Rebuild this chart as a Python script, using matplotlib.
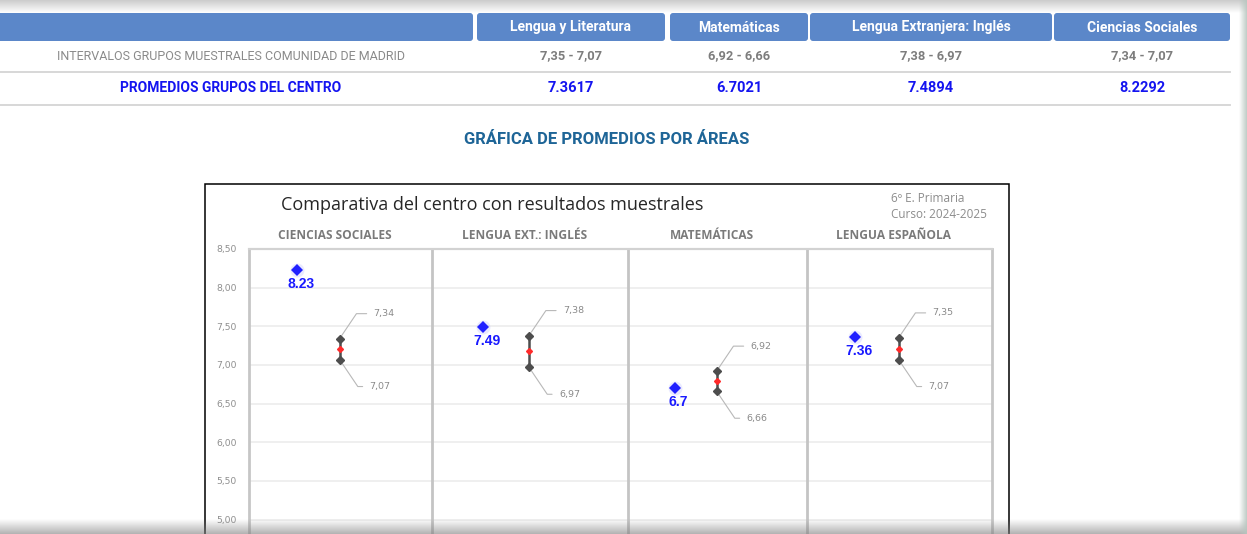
import numpy as np
import matplotlib
matplotlib.use("Agg")
import matplotlib.pyplot as plt
from matplotlib.patches import FancyBboxPatch, Rectangle

# ---------------- data ----------------
table_subjects = ["Lengua y Literatura", "Matemáticas", "Lengua Extranjera: Inglés", "Ciencias Sociales"]
interval_high = [7.35, 6.92, 7.38, 7.34]
interval_low = [7.07, 6.66, 6.97, 7.07]
center_means = [7.3617, 6.7021, 7.4894, 8.2292]
chart_categories = ["CIENCIAS SOCIALES", "LENGUA EXT.: INGLÉS", "MATEMÁTICAS", "LENGUA ESPAÑOLA"]
chart_order = [3, 2, 1, 0]          # table column shown in each chart panel
y_ticks = [5.0, 5.5, 6.0, 6.5, 7.0, 7.5, 8.0, 8.5]
row_label_intervals = "INTERVALOS GRUPOS MUESTRALES COMUNIDAD DE MADRID"
row_label_means = "PROMEDIOS GRUPOS DEL CENTRO"
section_title = "GRÁFICA DE PROMEDIOS POR ÁREAS"
chart_title = "Comparativa del centro con resultados muestrales"
chart_notes = ["6º E. Primaria", "Curso: 2024-2025"]


def comma(v):
    return f"{v:.2f}".replace(".", ",")


# ---------------- layout ----------------
W, H = 1247, 534
fig = plt.figure(figsize=(W / 100, H / 100), dpi=100)
fig.patch.set_facecolor("white")

bg = fig.add_axes([0, 0, 1, 1], zorder=0)
bg.set_xlim(0, W)
bg.set_ylim(H, 0)
bg.axis("off")

HEAD = "#5b87c9"
col_spans = [(477, 665), (670, 808), (810, 1052), (1054, 1230)]
head_top, head_bot = 13, 41
row2_y, row3_y = 56, 88
label_cx = 231

# header cells
bg.add_patch(FancyBboxPatch((-10, head_top), 483, head_bot - head_top,
                            boxstyle="round,pad=0,rounding_size=3",
                            fc=HEAD, ec="none"))
for (x0, x1), name in zip(col_spans, table_subjects):
    bg.add_patch(FancyBboxPatch((x0, head_top), x1 - x0, head_bot - head_top,
                                boxstyle="round,pad=0,rounding_size=3",
                                fc=HEAD, ec="none"))
    bg.text((x0 + x1) / 2, (head_top + head_bot) / 2 + 0.5, name, ha="center", va="center",
            color="white", fontsize=10, fontweight="bold", family="Roboto")

# rows
bg.text(label_cx, row2_y, row_label_intervals, ha="center", va="center",
        color="#8a8a8a", fontsize=9.0, family="Roboto")
bg.text(label_cx, row3_y, row_label_means, ha="center", va="center",
        color="#1414f0", fontsize=10, fontweight="bold", family="Roboto")
for (x0, x1), hi, lo, m in zip(col_spans, interval_high, interval_low, center_means):
    bg.text((x0 + x1) / 2, row2_y, f"{comma(hi)} - {comma(lo)}", ha="center", va="center",
            color="#7d7d7d", fontsize=9.3, fontweight="bold", family="Roboto")
    bg.text((x0 + x1) / 2, row3_y, f"{m:.4f}", ha="center", va="center",
            color="#1414f0", fontsize=10.5, fontweight="bold", family="Roboto")
for yl in (72, 105):
    bg.plot([0, 1230], [yl, yl], color="#d4d4d4", lw=1.3)

bg.text(607, 139, section_title, ha="center", va="center", color="#1e6597",
        fontsize=12, fontweight="bold", family="Roboto")

# chart frame
bg.add_patch(Rectangle((205, 184), 1009 - 205, 500, fc="white", ec="black", lw=1.1))
bg.text(281, 205, chart_title, ha="left", va="center", color="#262626",
        fontsize=13, family="Open Sans")
bg.text(891, 198, chart_notes[0], ha="left", va="center", color="#8c8c8c",
        fontsize=8.5, family="Open Sans")
bg.text(891, 215, chart_notes[1], ha="left", va="center", color="#8c8c8c",
        fontsize=8.5, family="Open Sans")

# ---------------- chart axes ----------------
ax_l, ax_r, ax_t, ax_b = 249, 992, 249, 560
px_per_unit = 77.3
ax = fig.add_axes([ax_l / W, 1 - ax_b / H, (ax_r - ax_l) / W, (ax_b - ax_t) / H], zorder=2)
ax.set_facecolor("none")
y_top = 8.5
ax.set_ylim(y_top - (ax_b - ax_t) / px_per_unit, y_top)

panel_widths = [183, 196, 179, 185]
edges = np.concatenate([[0], np.cumsum(panel_widths)])
ax.set_xlim(edges[0], edges[-1])
ax.set_xticks([])

ax.set_yticks(y_ticks)
ax.set_yticklabels([comma(v) for v in y_ticks])
ax.tick_params(axis="y", length=0, pad=9, labelsize=6.7, labelcolor="#8f8f8f")
ax.yaxis.grid(True, color="#efefef", lw=1.4)
ax.set_axisbelow(True)
for side, col, lw in (("left", "#c6c6c6", 2), ("right", "#c6c6c6", 2), ("top", "#d2d2d2", 1.6)):
    ax.spines[side].set_color(col)
    ax.spines[side].set_linewidth(lw)
ax.spines["bottom"].set_visible(False)

for e in edges[1:-1]:
    ax.axvline(e, color="#c4c4c4", lw=2, zorder=1)

PT = 0.72  # points per pixel at 100 dpi
for i, cat in enumerate(chart_categories):
    j = chart_order[i]
    x0, w = edges[i], panel_widths[i]
    px = x0 + 0.26 * w
    bx = x0 + 0.495 * w
    m, hi, lo = center_means[j], interval_high[j], interval_low[j]

    # panel header
    ax.annotate(cat, xy=(x0 + w / 2, 1), xycoords=("data", "axes fraction"),
                xytext=(-4, 13 * PT), textcoords="offset points", ha="center", va="center",
                fontsize=8.6, fontweight="bold", color="#7a7a7a", family="Open Sans",
                annotation_clip=False)

    # centre mean
    ax.plot([px], [m], marker="o", ms=10, color="#8a8aff", alpha=0.18, mew=0, zorder=3)
    ax.plot([px], [m], marker="D", ms=6, color="#2020ff", mew=0, zorder=4)
    ax.annotate(f"{round(m, 2):g}", xy=(px, m), xytext=(3, -14 * PT), textcoords="offset points",
                ha="center", va="center", fontsize=10, fontweight="bold", color="#1a1aff",
                family="Liberation Sans")

    # sample interval
    ax.plot([bx, bx], [lo, hi], color="#4d4d4d", lw=1.8, zorder=3)
    ax.plot([bx, bx], [lo, hi], ls="none", marker="D", ms=3.6, color="#4d4d4d", zorder=4)
    ax.plot([bx], [(lo + hi) / 2], ls="none", marker="D", ms=3, color="#ff2a2a", zorder=5)
    ax.annotate(comma(hi), xy=(bx, hi), xytext=(34 * PT, 25 * PT), textcoords="offset points",
                ha="left", va="center", fontsize=6.8, color="#8a8a8a",
                arrowprops=dict(arrowstyle="-", color="#b8b8b8", lw=0.8, shrinkA=3, shrinkB=3,
                                connectionstyle="angle,angleA=0,angleB=56,rad=0"))
    ax.annotate(comma(lo), xy=(bx, lo), xytext=(30 * PT, -27 * PT), textcoords="offset points",
                ha="left", va="center", fontsize=6.8, color="#8a8a8a",
                arrowprops=dict(arrowstyle="-", color="#b8b8b8", lw=0.8, shrinkA=3, shrinkB=3,
                                connectionstyle="angle,angleA=0,angleB=-56,rad=0"))

# ---------------- page shadows ----------------
ov = fig.add_axes([0, 0, 1, 1], zorder=6)
ov.set_facecolor("none")
ov.axis("off")


def grad(extent, rgb, a0, a1, vertical=True, n=64):
    t = np.linspace(a0, a1, n)
    arr = np.zeros((n, 1, 4) if vertical else (1, n, 4))
    arr[..., :3] = rgb
    arr[..., 3] = t.reshape(arr.shape[:2])
    ov.imshow(arr, extent=extent, origin="upper", aspect="auto", interpolation="bilinear")


grad((0, W, 13, 0), (0.55, 0.55, 0.55), 0.45, 0.0)
grad((0, W, H, 519), (0.5, 0.5, 0.5), 0.0, 0.6)
grad((1239, W, H, 0), (0.72, 0.78, 0.75), 0.0, 0.9, vertical=False)
ov.set_xlim(0, W)
ov.set_ylim(H, 0)

fig.savefig("out.png", dpi=100)
